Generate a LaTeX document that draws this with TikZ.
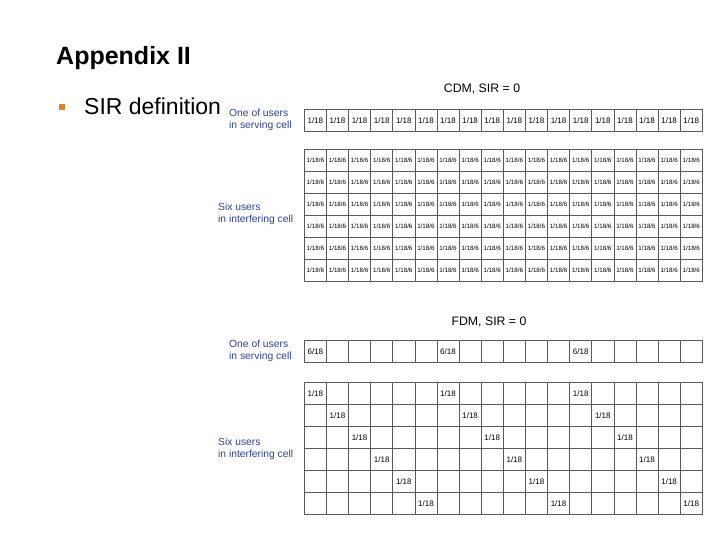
\documentclass[tikz,border=0pt]{standalone}
\usepackage{fontspec}
\setmainfont{Liberation Sans}
\definecolor{labelblue}{RGB}{45,65,150}
\definecolor{bulletorange}{RGB}{225,130,40}
\definecolor{gridgray}{RGB}{90,90,90}
\begin{document}
\begin{tikzpicture}[x=1pt,y=-1pt,
  cell/.style={draw=gridgray, line width=0.6pt, minimum width=22.111pt, minimum height=22pt, inner sep=0pt, anchor=north west, text=black},
  servtext/.style={font=\fontsize{8}{9}\selectfont},
  intftext/.style={font=\fontsize{6.2}{7}\selectfont},
  fdmtext/.style={font=\fontsize{8}{9}\selectfont},
  sidelabel/.style={anchor=west, align=left, text=labelblue, inner sep=0pt, font=\fontsize{10.3}{11.8}\selectfont},
  heading/.style={anchor=base, inner sep=0pt, font=\fontsize{12.3}{14}\selectfont}]
\useasboundingbox (0,0) rectangle (720,540);
% title and bullet
\node[anchor=base west, inner sep=0pt, font=\fontsize{25}{28}\selectfont\bfseries] (title) at (56,65) {Appendix II};
\node[fill=bulletorange, minimum size=6pt, inner sep=0pt] (bullet) at (62,107) {};
\node[anchor=base west, inner sep=0pt, font=\fontsize{23}{26}\selectfont] (sirdef) at (84,115) {SIR definition};
% CDM
\node[heading] (cdmtitle) at (482,92.5) {CDM, SIR = 0};
\node[sidelabel] (cdmserv) at (229,120) {One of users\\in serving cell};
\node[sidelabel] (cdmintf) at (218,213.5) {Six users\\in interfering cell};
\foreach \c in {1,...,18} {
  \node[cell, servtext] (cdmS-\c) at ({304+(\c-1)*22.111},109) {1/18};
}
\foreach \r in {1,...,6} {
  \foreach \c in {1,...,18} {
    \node[cell, intftext] (cdmI-\r-\c) at ({304+(\c-1)*22.111},{149+(\r-1)*22}) {1/18/6};
  }
}
% FDM
\node[heading] (fdmtitle) at (489,325.5) {FDM, SIR = 0};
\node[sidelabel] (fdmserv) at (229,351) {One of users\\in serving cell};
\node[sidelabel] (fdmintf) at (218,448.5) {Six users\\in interfering cell};
\foreach \c in {1,...,18} {
  \pgfmathtruncatemacro{\m}{mod(\c-1,6)}
  \ifnum\m=0
    \node[cell, fdmtext] (fdmS-\c) at ({304+(\c-1)*22.111},340) {6/18};
  \else
    \node[cell] (fdmS-\c) at ({304+(\c-1)*22.111},340) {};
  \fi
}
\foreach \r in {1,...,6} {
  \foreach \c in {1,...,18} {
    \pgfmathtruncatemacro{\m}{mod(\c-\r+18,6)}
    \ifnum\m=0
      \node[cell, fdmtext] (fdmI-\r-\c) at ({304+(\c-1)*22.111},{382+(\r-1)*22}) {1/18};
    \else
      \node[cell] (fdmI-\r-\c) at ({304+(\c-1)*22.111},{382+(\r-1)*22}) {};
    \fi
  }
}
\end{tikzpicture}
\end{document}
